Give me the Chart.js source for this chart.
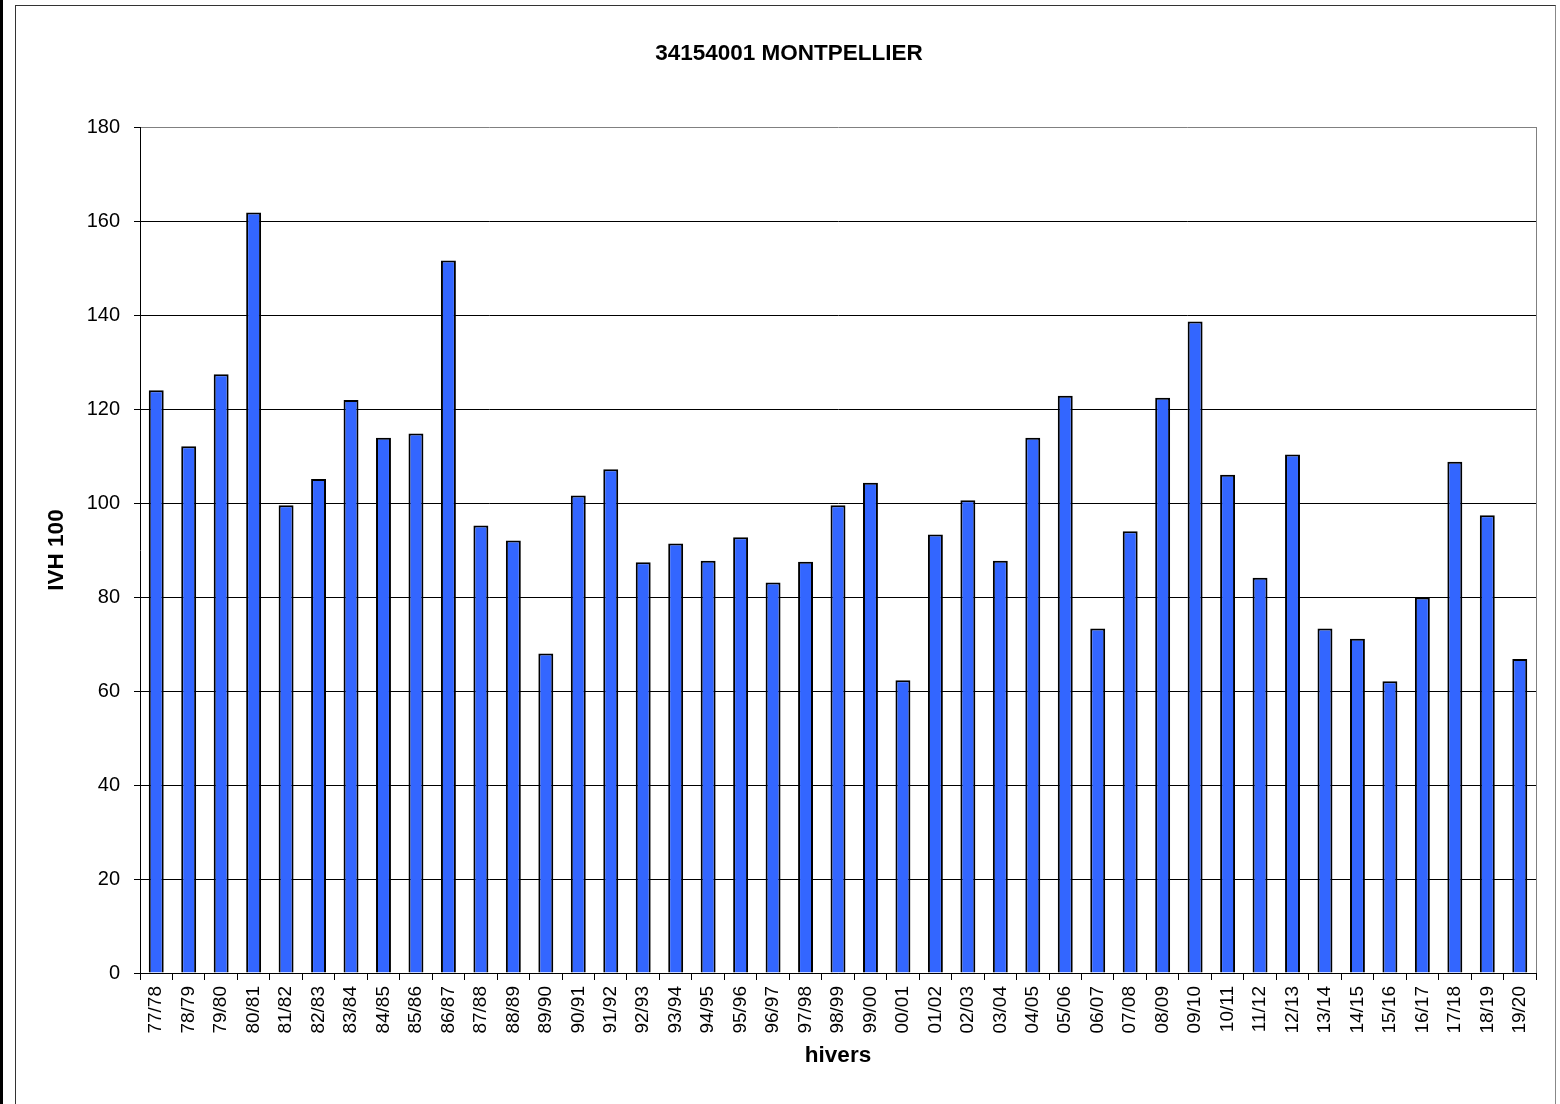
<!DOCTYPE html>
<html>
<head>
<meta charset="utf-8">
<script src="https://cdn.jsdelivr.net/npm/chart.js@4/dist/chart.umd.min.js"></script>
<style>
  html, body { margin: 0; padding: 0; background: #fff; }
  #wrap { position: relative; width: 1560px; height: 1104px; overflow: hidden; }
  #frame { position: absolute; left: 15px; top: 5px; width: 1541px; height: 1120px; border: 1px solid #333; border-right-color: #888; box-sizing: border-box; }
  #leftbar { position: absolute; left: 0; top: 0; width: 3px; height: 1104px; background: #000; }
  canvas { position: absolute; left: 0; top: 0; }
</style>
</head>
<body>
<div id="wrap">
  <div id="leftbar"></div>
  <div id="frame"></div>
  <canvas id="c" width="1560" height="1104"></canvas>
</div>
<script>
const chartTitle = '34154001 MONTPELLIER';
const xTitle = 'hivers';
const yTitle = 'IVH 100';
const categories = ['77/78','78/79','79/80','80/81','81/82','82/83','83/84','84/85','85/86','86/87',
  '87/88','88/89','89/90','90/91','91/92','92/93','93/94','94/95','95/96','96/97',
  '97/98','98/99','99/00','00/01','01/02','02/03','03/04','04/05','05/06','06/07',
  '07/08','08/09','09/10','10/11','11/12','12/13','13/14','14/15','15/16','16/17',
  '17/18','18/19','19/20'];
const ivh100 = [124.0,112.1,127.4,161.8,99.5,105.1,121.9,113.9,114.8,151.6,
  95.2,92.0,68.0,101.6,107.2,87.4,91.4,87.7,92.7,83.1,
  87.5,99.5,104.3,62.3,93.3,100.6,87.7,113.9,122.8,73.3,
  94.0,122.4,138.6,106.0,84.1,110.3,73.3,71.1,62.1,79.9,
  108.8,97.4,66.8];
const yMin = 0, yMax = 180, yStep = 20;

const FONT = "'Liberation Sans', Arial, sans-serif";

const borderPlugin = {
  id: 'plotBorder',
  afterDatasetsDraw(chart) {
    const {ctx, chartArea: a} = chart;
    ctx.save();
    ctx.strokeStyle = '#808080';
    ctx.lineWidth = 1;
    ctx.beginPath();
    ctx.moveTo(Math.round(a.right) + 0.5, a.top);
    ctx.lineTo(Math.round(a.right) + 0.5, a.bottom);
    ctx.stroke();
    ctx.restore();
  }
};

new Chart(document.getElementById('c'), {
  type: 'bar',
  data: {
    labels: categories,
    datasets: [{
      data: ivh100,
      backgroundColor: '#3366FF',
      borderColor: '#000000',
      borderWidth: 2,
      categoryPercentage: 1.0,
      barPercentage: 0.46
    }]
  },
  options: {
    responsive: false,
    animation: false,
    devicePixelRatio: 1,
    layout: { padding: { left: 42, right: 24, top: 0, bottom: 0 } },
    plugins: {
      legend: { display: false },
      tooltip: { enabled: false },
      title: {
        display: true,
        text: chartTitle,
        color: '#000',
        font: { family: FONT, size: 22.5, weight: 'bold' },
        padding: { top: 40, bottom: 60 }
      }
    },
    scales: {
      x: {
        offset: true,
        grid: { display: true, drawOnChartArea: false, drawTicks: true, tickLength: 7, tickColor: '#000', offset: true },
        border: { display: true, color: '#000', width: 1 },
        ticks: { color: '#000', font: { family: FONT, size: 19 }, minRotation: 90, maxRotation: 90, padding: 6, autoSkip: false },
        title: { display: true, text: xTitle, color: '#000', font: { family: FONT, size: 22.5, weight: 'bold' }, padding: { top: 0, bottom: 34.5 } },
        afterFit(scale) { scale.height = 131; }
      },
      y: {
        min: yMin, max: yMax,
        grid: {
          color: (c) => (c.tick && c.tick.value === yMax) ? '#808080' : '#000',
          lineWidth: 1, drawTicks: true, tickLength: 6, tickColor: '#000'
        },
        border: { display: true, color: '#000', width: 1 },
        ticks: { stepSize: yStep, color: '#000', font: { family: FONT, size: 20 }, padding: 14 },
        title: { display: true, text: yTitle, color: '#000', font: { family: FONT, size: 22.5, weight: 'bold' }, padding: { top: 1.5, bottom: 0 } },
        afterFit(scale) { scale.width = 98; }
      }
    }
  },
  plugins: [borderPlugin]
});
</script>
</body>
</html>
